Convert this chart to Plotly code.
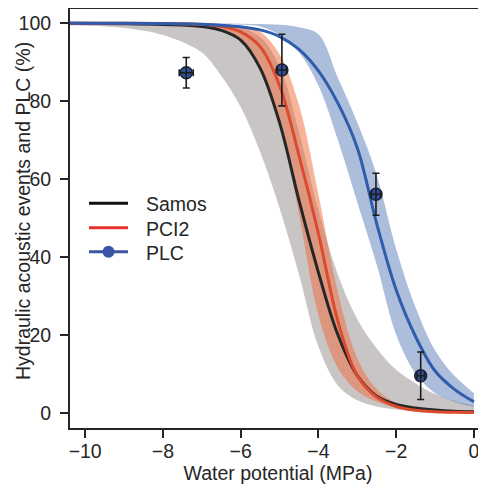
import plotly.graph_objects as go

# ---------------- data ----------------
water_potential = [-10.4, -9, -8, -7, -6.5, -6, -5.5, -5, -4.5, -4, -3.5, -3, -2.5, -2, -1.5, -1, -0.5, 0]

samos = [100, 99.9, 99.7, 99.2, 98.2, 95.7, 88.5, 74.5, 54.5, 36, 20, 9.5, 4.2, 2.1, 1.2, 0.7, 0.4, 0.25]
samos_low = [99.5, 98.8, 97.0, 92.5, 86.5, 78.5, 67, 52.5, 35.5, 17, 7, 3.2, 1.6, 0.8, 0.4, 0.2, 0.1, 0.1]
samos_high = [100, 100, 99.95, 99.8, 99.5, 98.8, 96.5, 89, 72, 52, 35.5, 24, 16.5, 11, 7.5, 4.8, 3, 1.8]

pci2 = [100, 100, 99.95, 99.7, 99.2, 97.8, 94, 84, 66, 46, 23.5, 9.5, 4, 1.6, 0.6, 0.25, 0.1, 0.05]
pci2_low = [100, 99.95, 99.8, 99.2, 98.2, 95.5, 89, 75, 51, 25, 11.5, 5.5, 2.8, 1.3, 0.6, 0.3, 0.15, 0.1]
pci2_high = [100, 100, 99.97, 99.9, 99.7, 99.3, 97.8, 92, 79, 56, 31, 14, 6, 2.5, 1.2, 0.6, 0.3, 0.2]

plc_fit = [100, 99.99, 99.95, 99.75, 99.5, 99.1, 98.3, 96.6, 93.3, 87.8, 79.5, 68, 48.5, 31.5, 19.5, 10.7, 6.0, 2.8]
plc_low = [100, 99.9, 99.8, 99.9, 99.8, 99.6, 99.2, 97, 92.5, 84, 70, 54, 38, 20, 10, 5, 2.8, 1.5]
plc_high = [100, 100, 100, 99.98, 99.95, 99.9, 99.8, 99.6, 99, 97.2, 86, 74.5, 61, 42, 27, 16, 9.5, 5]

plc_x = [-7.40, -4.94, -2.52, -1.37]
plc_y = [87.3, 88.0, 56.1, 9.5]
plc_xerr = [0.18, 0.12, 0.12, 0.10]
plc_yerr = [3.9, 9.2, 5.4, 6.1]

x_ticks = [-10, -8, -6, -4, -2, 0]
x_tick_labels = ["\u221210", "\u22128", "\u22126", "\u22124", "\u22122", "0"]
y_ticks = [0, 20, 40, 60, 80, 100]
y_tick_labels = ["0", "20", "40", "60", "80", "100"]

legend_names = ["Samos", "PCI2", "PLC"]

# ---------------- styling ----------------
FONT = "Liberation Sans, Arial, Helvetica, sans-serif"
FS = 19.5
TXT = "#262626"

C_BLACK = "#262626"
C_RED = "#dc4a30"
C_BLUE = "#2f5cab"
F_GRAY = "rgba(120,110,110,0.40)"
F_ORANGE = "rgba(240,105,55,0.50)"
F_BLUE = "rgba(60,100,175,0.42)"

# The page puts the figure 8 px in from the window's top-left corner,
# so the figure is sized to end exactly at the window edge.
OFF = 8
FIG_W, FIG_H = 486 - OFF, 488 - OFF

fig = go.Figure()


def band(lo, hi, fill):
    fig.add_trace(go.Scatter(x=water_potential, y=lo, mode="lines", line=dict(width=0, shape="spline"),
                             showlegend=False, hoverinfo="skip"))
    fig.add_trace(go.Scatter(x=water_potential, y=hi, mode="lines", line=dict(width=0, shape="spline"),
                             fill="tonexty", fillcolor=fill, showlegend=False, hoverinfo="skip"))


band(samos_low, samos_high, F_GRAY)
band(pci2_low, pci2_high, F_ORANGE)
band(plc_low, plc_high, F_BLUE)

fig.add_trace(go.Scatter(x=water_potential, y=samos, mode="lines",
                         line=dict(color=C_BLACK, width=3, shape="spline"), name="Samos", showlegend=False))
fig.add_trace(go.Scatter(x=water_potential, y=pci2, mode="lines",
                         line=dict(color=C_RED, width=3, shape="spline"), name="PCI2", showlegend=False))
fig.add_trace(go.Scatter(x=water_potential, y=plc_fit, mode="lines",
                         line=dict(color=C_BLUE, width=3, shape="spline"), name="PLC fit", showlegend=False))

# PLC measurements: markers, then error bars drawn on top
fig.add_trace(go.Scatter(x=plc_x, y=plc_y, mode="markers", name="PLC", showlegend=False,
                         marker=dict(size=12, color="#2d4f9e", line=dict(color="#1c1f2e", width=1.5))))
fig.add_trace(go.Scatter(x=plc_x, y=plc_y, mode="markers", showlegend=False, hoverinfo="skip",
                         marker=dict(size=12, color="rgba(0,0,0,0)"),
                         error_y=dict(type="data", array=plc_yerr, color="#1c1c1c", thickness=1.6, width=3.5),
                         error_x=dict(type="data", array=plc_xerr, color="#1c1c1c", thickness=1.6, width=3.5)))

# ---------------- manual legend (paper coordinates, from window px) ----------------
PL, PW, PT, PB = 70, 416, 9, 428  # plot area in window px
PH = PB - PT


def px_x(p):
    return (p - PL) / PW


def px_y(p):
    return (PB - p) / PH


rows = [203.3, 227.7, 251.7]
leg_colors = ["#111111", "#e8302a", "#3a55a5"]
shapes = []
annotations = []
for name, col, ry in zip(legend_names, leg_colors, rows):
    shapes.append(dict(type="line", xref="paper", yref="paper", x0=px_x(89), x1=px_x(128),
                       y0=px_y(ry), y1=px_y(ry), line=dict(color=col, width=3)))
    annotations.append(dict(text=name, xref="paper", yref="paper", x=px_x(144), y=px_y(ry + 1),
                            xanchor="left", yanchor="middle", showarrow=False,
                            font=dict(family=FONT, size=FS, color=TXT)))
shapes.append(dict(type="circle", xref="paper", yref="paper", xsizemode="pixel", ysizemode="pixel",
                   xanchor=px_x(108.5), yanchor=px_y(rows[2]), x0=-6, x1=6, y0=-6, y1=6,
                   fillcolor="#3a55a5", line=dict(color="#3a55a5", width=0)))

annotations.append(dict(text="Hydraulic acoustic events and PLC (%)", xref="paper", yref="paper",
                        x=px_x(23), y=px_y(211), textangle=-90, xanchor="center", yanchor="middle",
                        showarrow=False, font=dict(family=FONT, size=FS, color=TXT)))

fig.update_layout(
    width=FIG_W, height=FIG_H,
    margin=dict(l=PL - OFF, r=0, t=PT - OFF, b=FIG_H - (PB - OFF), pad=0),
    paper_bgcolor="white", plot_bgcolor="white",
    font=dict(family=FONT, size=FS, color=TXT),
    showlegend=False,
    shapes=shapes,
    annotations=annotations,
    xaxis=dict(range=[-10.39, 0.31], tickvals=x_ticks, ticktext=x_tick_labels,
               showline=True, linecolor=C_BLACK, linewidth=2, mirror=True,
               ticks="outside", ticklen=8, tickwidth=1.5, tickcolor=C_BLACK,
               showgrid=False, zeroline=False, automargin=False, ticklabelstandoff=-3,
               tickfont=dict(family=FONT, size=FS, color=TXT),
               title=dict(text="Water potential (MPa)", font=dict(family=FONT, size=FS, color=TXT), standoff=2)),
    yaxis=dict(range=[-3.93, 103.67], tickvals=y_ticks, ticktext=y_tick_labels,
               showline=True, linecolor=C_BLACK, linewidth=2, mirror=False,
               ticks="outside", ticklen=8, tickwidth=1.5, tickcolor=C_BLACK,
               showgrid=False, zeroline=False, automargin=False, ticklabelstandoff=5,
               tickfont=dict(family=FONT, size=FS, color=TXT)),
)

fig.write_html("out.html")
